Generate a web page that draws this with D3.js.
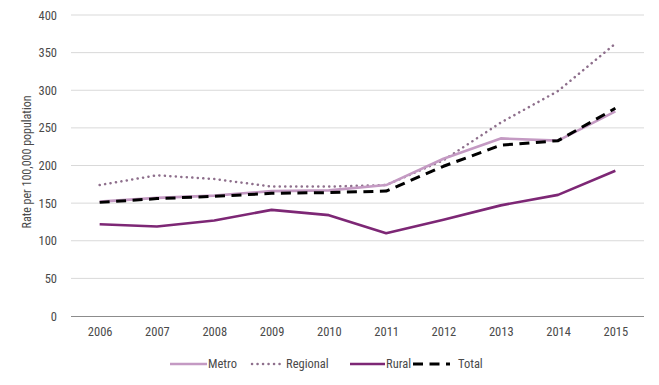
<!DOCTYPE html>
<html>
<head>
<meta charset="utf-8">
<script src="https://cdn.jsdelivr.net/npm/d3@7"></script>
<style>
  html, body { margin: 0; padding: 0; background: #fff; }
  svg text { font-family: "Liberation Sans Narrow", "Roboto Condensed", "Liberation Sans", sans-serif; fill: #4a4a4a; }
</style>
</head>
<body>
<svg id="chart" width="659" height="385"></svg>
<script>
const years = ["2006","2007","2008","2009","2010","2011","2012","2013","2014","2015"];
const metro    = [152, 157, 160, 166, 167, 174, 209, 236, 233, 272];
const regional = [174, 187, 182, 172, 172, 174, 207, 257, 299, 362];
const rural    = [122, 119, 127, 141, 134, 110, 128, 147, 161, 193];
const total    = [151, 156, 159, 163, 164, 166, 199, 227, 233, 276];
const yTicks = [0, 50, 100, 150, 200, 250, 300, 350, 400];
const seriesNames = ["Metro", "Regional", "Rural", "Total"];

const series = [
  {name: seriesNames[0], values: metro,    color: "#c49ac3", width: 2.6, dash: null, cap: "butt"},
  {name: seriesNames[1], values: regional, color: "#8e6f8c", width: 2.5, dash: "0.1,5.4", cap: "round"},
  {name: seriesNames[2], values: rural,    color: "#7d2775", width: 2.6, dash: null, cap: "butt"},
  {name: seriesNames[3], values: total,    color: "#000000", width: 3,   dash: "10,6.5", cap: "butt"}
];

const svg = d3.select("#chart");
const x = d3.scalePoint().domain(years).range([71, 644]).padding(0.5);
const y = d3.scaleLinear().domain([0, 400]).range([316, 15]);

// gridlines
svg.append("g").selectAll("line").data(yTicks.filter(d => d > 0)).join("line")
  .attr("x1", 71).attr("x2", 644)
  .attr("y1", d => y(d)).attr("y2", d => y(d))
  .attr("stroke", "#d9d9d9").attr("stroke-width", 1);

// y axis labels
const yAxis = d3.axisLeft(y).tickValues(yTicks).tickSize(0).tickPadding(0);
const gy = svg.append("g").attr("transform", "translate(57,0)").call(yAxis);
gy.select(".domain").remove();
gy.selectAll("text").attr("font-size", 12.5).style("fill", "#4a4a4a");

// x axis
const xAxis = d3.axisBottom(x).tickSize(0).tickPadding(11);
const gx = svg.append("g").attr("transform", "translate(0,316)").call(xAxis);
gx.select(".domain").attr("stroke", "#8c8c8c").attr("stroke-width", 1.2).attr("d", "M71,0.5H644");
gx.selectAll("text").attr("font-size", 12.5).style("fill", "#4a4a4a");

// y title
svg.append("text")
  .attr("transform", "translate(31,162) rotate(-90)")
  .attr("text-anchor", "middle")
  .attr("font-size", 12)
  .text("Rate per 100,000 population");

// lines
const line = d3.line().x((d, i) => x(years[i])).y(d => y(d));
const order = [1, 2, 0, 3];
order.forEach(k => {
  const s = series[k];
  svg.append("path")
    .datum(s.values)
    .attr("d", line)
    .attr("fill", "none")
    .attr("stroke", s.color)
    .attr("stroke-width", s.width)
    .attr("stroke-dasharray", s.dash)
    .attr("stroke-linecap", s.cap)
    .attr("stroke-linejoin", "round");
});

// legend
const legendX = [170, 252, 350, 413];
const legendW = [37, 30, 35, 37];
const legendTextX = [208, 286, 386, 458];
const ly = 364;
series.forEach((s, i) => {
  svg.append("line")
    .attr("x1", legendX[i]).attr("x2", legendX[i] + legendW[i])
    .attr("y1", ly).attr("y2", ly)
    .attr("stroke", s.color)
    .attr("stroke-width", s.width)
    .attr("stroke-dasharray", s.dash)
    .attr("stroke-linecap", s.cap);
  svg.append("text")
    .attr("x", legendTextX[i]).attr("y", ly)
    .attr("dy", "0.35em")
    .attr("font-size", 12.5)
    .text(s.name);
});
</script>
</body>
</html>
